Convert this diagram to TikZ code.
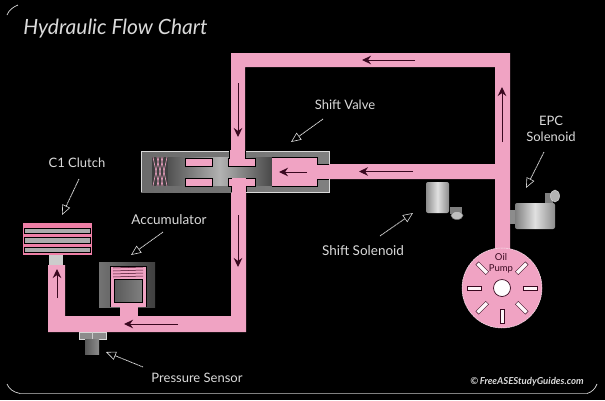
\documentclass[tikz,border=0pt]{standalone}
\usepackage{fontspec}
\setmainfont{Lato}
\usetikzlibrary{arrows.meta}
\definecolor{oilpink}{HTML}{F0A3C3}
\definecolor{clutchpink}{HTML}{EE7FA6}
\definecolor{arrowdark}{HTML}{3A0820}
\definecolor{labelgray}{HTML}{DADADA}
\tikzset{
  oil/.style={fill=oilpink,draw=none},
  flow/.style={-{Stealth[length=9pt,width=8.5pt]},draw=arrowdark,line width=1pt},
  callout/.style={-{Triangle[open,length=10pt,width=8.5pt,line width=0.6pt]},draw=labelgray,line width=0.8pt,dash pattern=on 1.2pt off 0.5pt},
  label/.style={text=labelgray,font=\fontsize{13}{16}\selectfont,inner sep=0pt,align=center},
  frameline/.style={draw=black!50,line width=1.2pt},
  vane/.style={fill=white!90!oilpink,draw=arrowdark,line width=0.4pt}
}
\begin{document}
\begin{tikzpicture}[x=1pt,y=-1pt]
\useasboundingbox (0,0) rectangle (605,400);
\fill[black] (0,0) rectangle (605,400);
\draw[frameline] (20,393.5) -- (587,393.5);
\draw[labelgray,line width=0.7pt] (7,15) .. controls (9,10) and (13,7) .. (18,5);
\draw[labelgray,line width=0.7pt] (7,384) .. controls (9,389) and (13,392) .. (20,393.5);
\draw[labelgray,line width=0.7pt] (597,384) .. controls (595,389) and (592,392) .. (587,393.5);
\node[label,font=\fontsize{21}{24}\selectfont\itshape] (title) at (115.5,29) {Hydraulic Flow Chart};
% pipes
\fill[oil] (231,186) -- (231,53) -- (510,53) -- (510,250) -- (495,250) -- (495,179) -- (320,179)
  -- (320,164) -- (495,164) -- (495,67) -- (245,67) -- (245,186) -- cycle;
\fill[oil] (231,186) -- (246,186) -- (246,332) -- (48,332) -- (48,265) -- (65,265) -- (65,316) -- (231,316) -- cycle;
% shift valve
\fill[left color=black!58,right color=black!50] (141,151) rectangle (329,192);
\draw[labelgray,line width=0.6pt] (141,192) -- (141,151) -- (229,151);
\draw[labelgray,line width=0.6pt] (245,151) -- (329,151) -- (329,192) -- (246,192);
\fill[black!75] (152,157) rectangle (168,186);
\foreach \sx in {153,157,161}
  \draw[oilpink,line width=0.6pt] (\sx,186) -- (\sx+6,157);
\foreach \sx in {153,157,161}
  \draw[oilpink,line width=0.6pt] (\sx+6,186) -- (\sx,157);
\fill[left color=black!68,right color=black!72,middle color=black!30] (168,157.5) rectangle (272,185.5);
\foreach \cx in {185,228}
  \fill[oil,draw=black,line width=0.7pt] (\cx,158) rectangle (\cx+27,166);
\foreach \cx in {185,228}
  \fill[oil,draw=black,line width=0.7pt] (\cx,178) rectangle (\cx+27,186);
\fill[oil] (230,150) rectangle (245,165.6);
\fill[oil] (232,178.4) rectangle (246,193);
\fill[oil] (272,157) -- (317,157) -- (317,164) -- (330,164) -- (330,179) -- (317,179) -- (317,186) -- (272,186) -- cycle;
\draw[black,line width=0.9pt] (229.5,151) -- (229.5,158) (245.5,151) -- (245.5,158) (231.5,192) -- (231.5,186) (246.5,192) -- (246.5,186);
\draw[black,line width=0.9pt] (272,157) -- (317,157) -- (317,164) -- (329,164);
\draw[black,line width=0.9pt] (272,186) -- (317,186) -- (317,179) -- (329,179);
% clutch
\fill[clutchpink] (23,223) rectangle (92,255);
\foreach \py in {228,237.5,247}
  \fill[black!33,draw=black,line width=0.5pt] (24.5,\py) rectangle (90,\py+5.5);
\fill[black!20] (49,255) rectangle (63,265);
% accumulator
\fill[left color=black!55,right color=black!75] (99,262) rectangle (155,307);
\fill[oil] (110,266) rectangle (146,307);
\fill[oil] (120,306) rectangle (138,317);
\draw[black,line width=0.6pt] (110,307) -- (110,266) -- (146,266) -- (146,307);
\foreach \sy in {268,271,274,277}
  \draw[arrowdark,line width=0.5pt] (113,\sy) -- (143,\sy-1);
\fill[left color=black!65,right color=black!50,draw=black,line width=0.7pt] (114,279) rectangle (142,302);
% pressure sensor
\fill[black!45,draw=black!15,line width=0.5pt] (79,332) rectangle (106,339);
\draw[black!20,line width=0.5pt] (92.5,332) -- (92.5,339);
\fill[left color=black!65,right color=black!45] (85,339) rectangle (99,354);
% shift solenoid
\fill[left color=black!45,right color=black!45,middle color=black!12,rounded corners=2pt] (426,182) rectangle (449,213);
\fill[black!50] (450,207) rectangle (462,214);
\fill[black!25,draw=black!55,line width=0.5pt] (457,215.5) ellipse (6 and 4);
% epc solenoid
\fill[black!45] (510,210) rectangle (515,224);
\fill[left color=black!50,right color=black!45,middle color=black!12,rounded corners=2pt] (515,203) rectangle (555,229);
\fill[black!50] (545,193) rectangle (553,203);
\fill[black!30,draw=black!15,line width=0.5pt] (555,196) ellipse (4.5 and 6);
% oil pump
\fill[oil,draw=white!70!oilpink,line width=0.5pt,dash pattern=on 2pt off 0.6pt] (502,288) circle (40);
\foreach \va in {0,45,135,180,225,270,315}
  \fill[vane,rotate around={\va:(502,288)}] (523,286) rectangle (537,290);
\fill[white,draw=arrowdark,line width=0.7pt] (502,288) circle (8.5);
\node[text=arrowdark,font=\fontsize{9.5}{11}\selectfont,align=center,inner sep=0pt] (oilpump) at (501,263) {Oil\\Pump};
% flow arrows
\draw[flow] (415,60) -- (362,60);
\draw[flow] (238,83) -- (238,137);
\draw[flow] (502,142) -- (502,87);
\draw[flow] (413,171.5) -- (359,171.5);
\draw[flow] (307,172) -- (279,172);
\draw[flow] (238,215) -- (238,267);
\draw[flow] (178,324) -- (124,324);
\draw[flow] (57,298) -- (57,269);
% labels
\node[label] (shiftvalve) at (345,105) {Shift Valve};
\node[label] (clutch) at (77,163) {C1 Clutch};
\node[label,font=\fontsize{13.5}{16}\selectfont] (accumulator) at (169,220) {Accumulator};
\node[label,font=\fontsize{13.5}{16}\selectfont] (shiftsolenoid) at (363,251) {Shift Solenoid};
\node[label] (epcsolenoid) at (551,128.5) {EPC\\Solenoid};
\node[label] (pressuresensor) at (197,378) {Pressure Sensor};
\node[label,font=\fontsize{9.6}{10}\selectfont\bfseries\itshape] (credit) at (527,382) {©\,FreeASEStudyGuides.com};
% callouts
\coordinate (valvetail) at (323,119);
\coordinate (valvehead) at (291,142);
\coordinate (shifttail) at (380,236);
\coordinate (shifthead) at (413,213);
\coordinate (epctail) at (544,152);
\coordinate (epchead) at (526,188);
\coordinate (clutchtail) at (79,179);
\coordinate (clutchhead) at (62,215);
\coordinate (accutail) at (163,232);
\coordinate (accuhead) at (131,255);
\coordinate (sensortail) at (143,367);
\coordinate (sensorhead) at (106,352);
\draw[callout] (valvetail) -- (valvehead);
\draw[callout] (shifttail) -- (shifthead);
\draw[callout] (epctail) -- (epchead);
\draw[callout] (clutchtail) -- (clutchhead);
\draw[callout] (accutail) -- (accuhead);
\draw[callout] (sensortail) -- (sensorhead);
\end{tikzpicture}
\end{document}
